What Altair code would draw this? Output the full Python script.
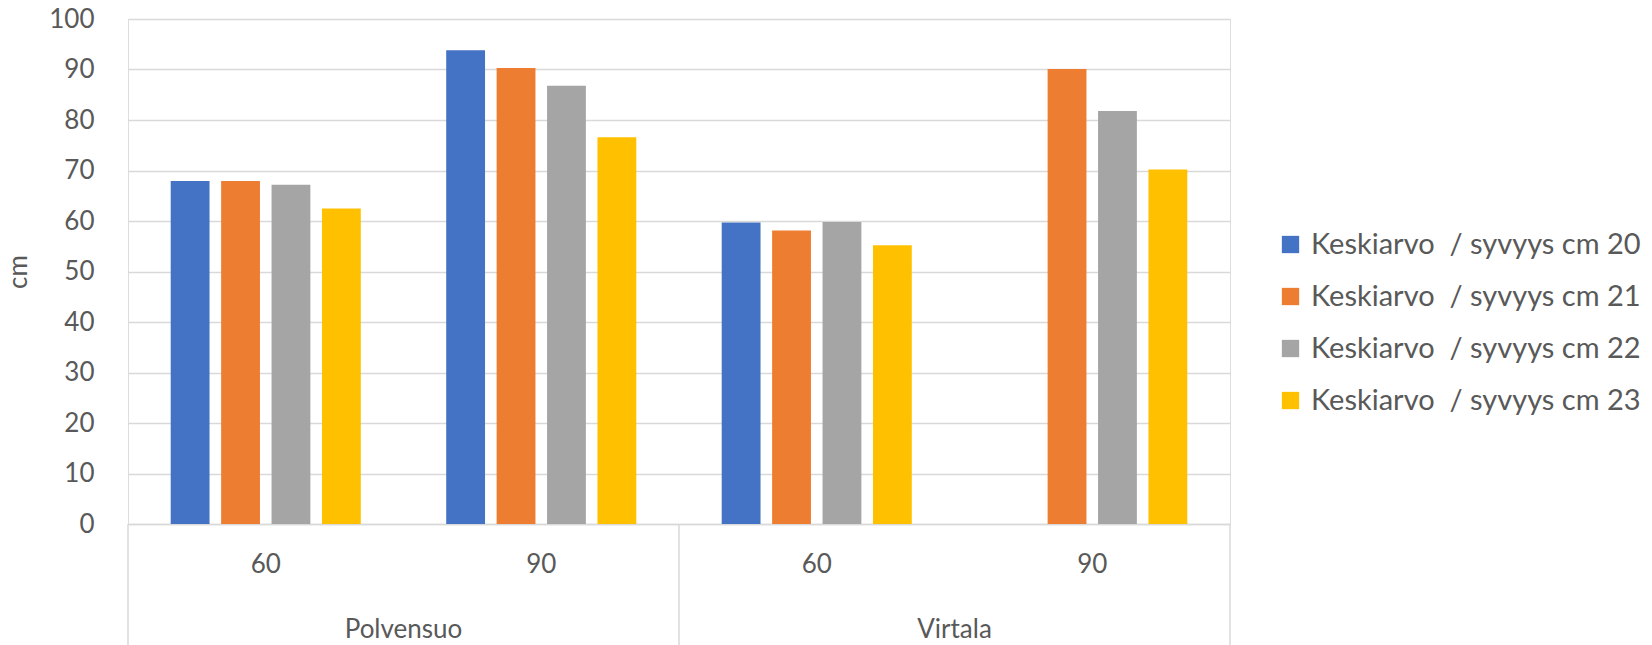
import altair as alt
import pandas as pd

sites = ["Polvensuo", "Polvensuo", "Virtala", "Virtala"]
depths = ["60", "90", "60", "90"]
series = [
    "Keskiarvo  / syvyys cm 20",
    "Keskiarvo  / syvyys cm 21",
    "Keskiarvo  / syvyys cm 22",
    "Keskiarvo  / syvyys cm 23",
]
s20 = [67.9, 93.8, 59.7, None]
s21 = [67.9, 90.3, 58.1, 90.1]
s22 = [67.2, 86.8, 59.8, 81.8]
s23 = [62.5, 76.6, 55.2, 70.2]
colors = ["#4472C4", "#ED7D31", "#A5A5A5", "#FFC000"]
group_names = ["Polvensuo", "Virtala"]

W, H = 1102, 505
FONT = "Lato"
TXT = "#595959"
GRID = "#D9D9D9"
FS = 26

rows = []
for s, vals in zip(series, [s20, s21, s22, s23]):
    for site, d, v in zip(sites, depths, vals):
        rows.append({"key": f"{site}|{d}", "series": s, "value": v})
df = pd.DataFrame(rows)
keys = [f"{s}|{d}" for s, d in zip(sites, depths)]

bars = alt.Chart(df).mark_bar().encode(
    x=alt.X("key:N", sort=keys,
            scale=alt.Scale(domain=keys, paddingInner=0.31, paddingOuter=0.155),
            axis=alt.Axis(title=None, labelExpr="split(datum.label, '|')[1]",
                          labelAngle=0, ticks=False, labelPadding=40,
                          labelBaseline="middle", labelFontSize=FS, labelColor=TXT,
                          labelFont=FONT, domainColor=GRID, domainWidth=1.5,
                          grid=False)),
    xOffset=alt.XOffset("series:N", sort=series,
                        scale=alt.Scale(domain=series, paddingInner=0.23, paddingOuter=0)),
    y=alt.Y("value:Q", scale=alt.Scale(domain=[0, 100], nice=False),
            axis=alt.Axis(title="cm", values=list(range(0, 101, 10)), ticks=False,
                          domain=False, labelPadding=34, labelFontSize=FS,
                          labelColor=TXT, labelFont=FONT, gridColor=GRID,
                          gridWidth=1.5, titleFont=FONT, titleFontSize=FS,
                          titleFontWeight="normal", titleColor=TXT,
                          titleX=-110, titleY=H / 2, titleBaseline="middle",
                          titleAngle=-90)),
    color=alt.Color("series:N", sort=series,
                    scale=alt.Scale(domain=series, range=colors),
                    legend=alt.Legend(title=None, orient="none", legendX=1148,
                                      legendY=211, symbolType="square",
                                      symbolSize=300, symbolStrokeWidth=0,
                                      labelFontSize=29, labelFont=FONT,
                                      labelColor=TXT, labelLimit=600,
                                      labelExpr="replace(datum.label, '  ', '\u00a0 ')",
                                      rowPadding=22, symbolOffset=0,
                                      labelOffset=6)),
)

gdf = pd.DataFrame({"name": group_names, "idx": [0, 1]})
group_text = alt.Chart(gdf).transform_calculate(
    gx=f"(datum.idx + 0.5) * {W} / 2"
).mark_text(fontSize=FS, font=FONT, color=TXT, baseline="middle").encode(
    x=alt.X("gx:Q", scale=None),
    y=alt.value(H + 106),
    text="name:N",
)

sep_df = pd.DataFrame({"pos": [0, 1, 2]})
seps = alt.Chart(sep_df).transform_calculate(
    sx=f"datum.pos * {W} / 2"
).mark_rule(color=GRID, strokeWidth=1.5).encode(
    x=alt.X("sx:Q", scale=None),
    y=alt.value(H),
    y2=alt.value(H + 125),
)

chart = alt.layer(seps, bars, group_text).properties(
    width=W, height=H,
    padding={"left": 128, "top": 19, "right": 421, "bottom": 121},
    autosize=alt.AutoSizeParams(type="none"),
).configure_view(stroke=None).configure(background="white")

chart.save("out.html", embed_options={"renderer": "svg", "actions": False})
